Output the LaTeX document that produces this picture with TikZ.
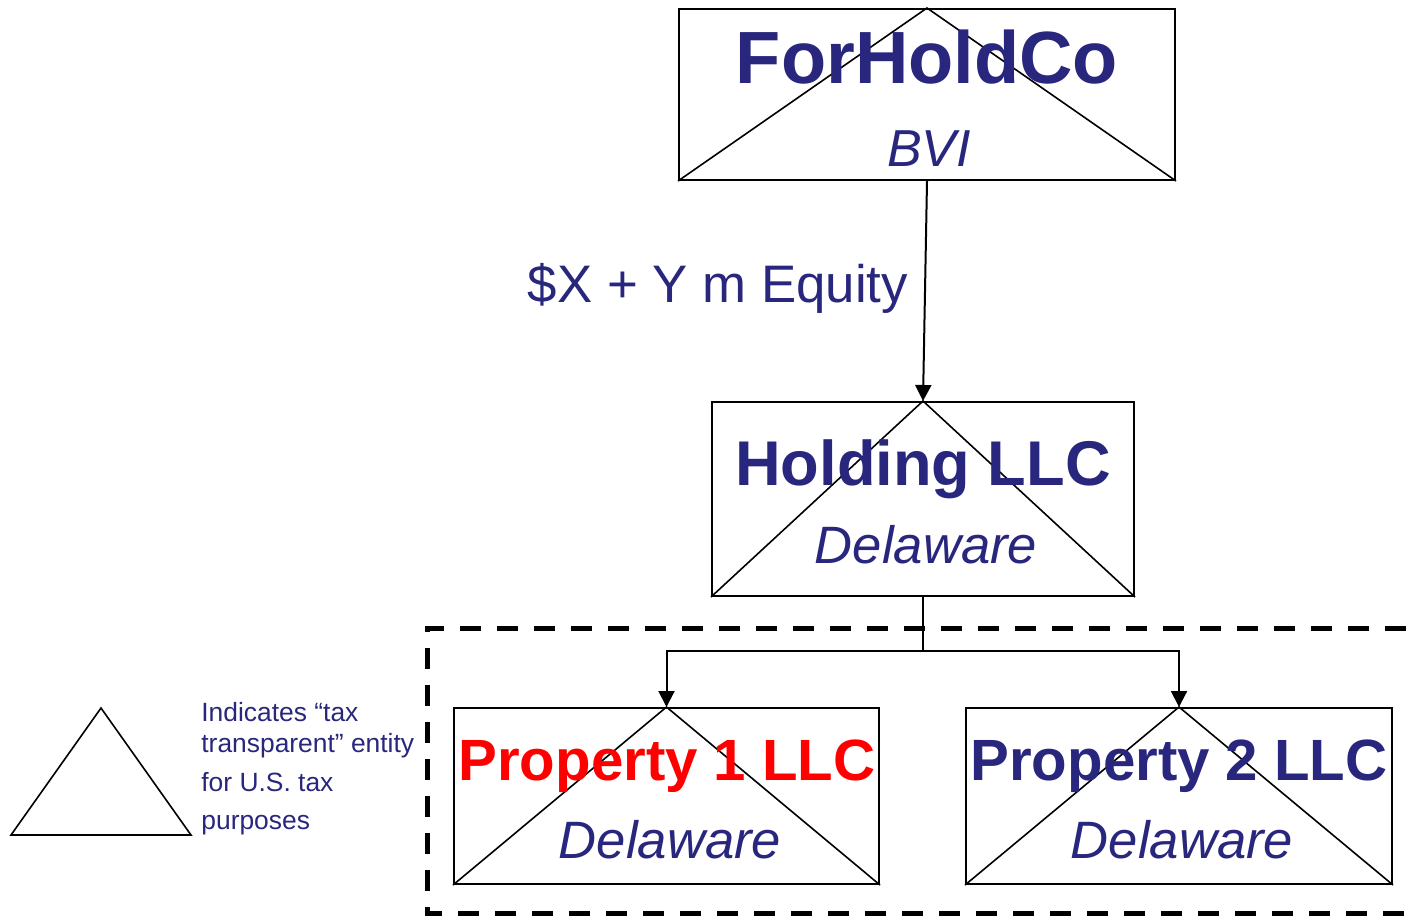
\documentclass[tikz,border=0pt]{standalone}
\usepackage{fontspec}
\setmainfont{Liberation Sans}
\usetikzlibrary{arrows.meta}
\definecolor{navy}{RGB}{40,38,125}
\definecolor{pred}{RGB}{255,0,0}
\tikzset{
  entbox/.style={draw=black, line width=1pt, inner sep=0pt},
  tri/.style={draw=black, line width=0.8pt},
  conn/.style={draw=black, line width=1pt},
  arr/.style={conn, -{Triangle[length=8pt,width=8pt]}},
  ttl/.style={text=navy, font=\bfseries, anchor=base, inner sep=0pt},
  sub/.style={text=navy, font=\itshape, anchor=base, inner sep=0pt},
  leg/.style={text=navy, anchor=base west, inner sep=0pt, font=\fontsize{13.2pt}{15pt}\selectfont},
  dashbox/.style={draw=black, line width=2.5pt, dash pattern=on 10.5pt off 8pt}
}
\begin{document}
\begin{tikzpicture}[x=0.5pt,y=-0.5pt]
\useasboundingbox (0,0) rectangle (1406,916);
% boxes
\node[entbox, minimum width=248pt, minimum height=85.5pt] (fhc) at (927,94.5) {};
\node[entbox, minimum width=211pt, minimum height=97pt] (hold) at (923,499) {};
\node[entbox, minimum width=212.5pt, minimum height=88pt] (p1) at (666.5,796) {};
\node[entbox, minimum width=213pt, minimum height=88pt] (p2) at (1179,796) {};
% triangles
\draw[tri] (fhc.south west) -- (fhc.north) -- (fhc.south east);
\draw[tri] (hold.south west) -- (hold.north) -- (hold.south east);
\draw[tri] (p1.south west) -- (p1.north) -- (p1.south east);
\draw[tri] (p2.south west) -- (p2.north) -- (p2.south east);
% texts
\node[ttl, font=\bfseries\fontsize{37pt}{40pt}\selectfont] (t1) at (927,83) {ForHoldCo};
\node[sub, font=\itshape\fontsize{26pt}{30pt}\selectfont] (s1) at (929,166) {BVI};
\node[ttl, font=\bfseries\fontsize{31.6pt}{36pt}\selectfont] (t2) at (923,485) {Holding LLC};
\node[sub, font=\itshape\fontsize{26.3pt}{30pt}\selectfont] (s2) at (926,563) {Delaware};
\node[ttl, text=pred, font=\bfseries\fontsize{29.1pt}{33pt}\selectfont] (t3) at (667,780) {Property 1 LLC};
\node[sub, font=\itshape\fontsize{26.3pt}{30pt}\selectfont] (s3) at (670,858) {Delaware};
\node[ttl, font=\bfseries\fontsize{29.1pt}{33pt}\selectfont] (t4) at (1179,780) {Property 2 LLC};
\node[sub, font=\itshape\fontsize{26.3pt}{30pt}\selectfont] (s4) at (1182,858) {Delaware};
\node[text=navy, anchor=base, inner sep=0pt, font=\fontsize{26.4pt}{30pt}\selectfont] (eq) at (718,302) {\$X + Y m Equity};
% connectors
\draw[arr] (fhc.south) -- (hold.north);
\coordinate (j) at (923,651);
\draw[conn] (hold.south) -- (j);
\draw[arr] (j) -| (p1.north);
\draw[arr] (j) -| (p2.north);
% dashed group
\draw[dashbox] (1406,628) -- (427,628) -- (427,913) -- (1406,913);
% legend
\draw[tri] (11,835) -- (101,708) -- (191,835) -- cycle;
\node[leg] (l1) at (201,721) {Indicates “tax};
\node[leg] (l2) at (201,752) {transparent” entity};
\node[leg] (l3) at (201,791) {for U.S. tax};
\node[leg] (l4) at (201,829) {purposes};
\end{tikzpicture}
\end{document}
